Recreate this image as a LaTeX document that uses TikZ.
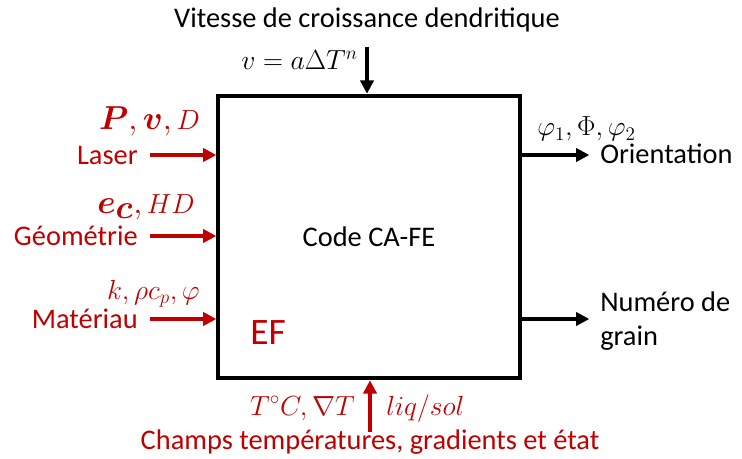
\documentclass[tikz,border=0pt]{standalone}
\usepackage{amsmath}
\usepackage{bm}
\usepackage{fontspec}
\setmainfont{Carlito}
\usetikzlibrary{arrows.meta, positioning, calc}
\definecolor{cared}{RGB}{192,0,0}

\begin{document}
\begin{tikzpicture}[x=0.75pt, y=-0.75pt,
  txt/.style={font=\fontsize{21.3}{24}\selectfont, inner sep=0pt, align=left},
  redtxt/.style={txt, text=cared},
  mth/.style={font=\fontsize{20.5}{24}\selectfont, inner sep=0pt},
  redmth/.style={mth, text=cared},
  codebox/.style={draw, line width=3pt, minimum width=226pt, minimum height=212pt, font=\fontsize{21.3}{24}\selectfont},
  inarrow/.style={-{Triangle[length=10pt, width=10pt]}, line width=2.3pt, draw=cared},
  outarrow/.style={-{Triangle[length=10pt, width=10pt]}, line width=2.3pt, draw=black}
]
\useasboundingbox (0,0) rectangle (742,459);
\node[codebox] (code) at (369,237) {Code CA-FE};
\node[redtxt, font=\fontsize{28}{30}\selectfont] (ef) at (268,333) {EF};

% entrées
\node[redtxt, anchor=east] (laser) at (138,155) {Laser};
\node[redtxt, anchor=east] (geom) at (138,236) {Géométrie};
\node[redtxt, anchor=east] (mat) at (138,319) {Matériau};
\node[redmth, anchor=east] (laserpar) at (200,121) {{\fontsize{34}{36}\selectfont$\bm{P},\bm{v},$}\,$D$};
\node[redmth, anchor=east] (geompar) at (195,207) {{\fontsize{34}{36}\selectfont$\bm{e_c},$}\,$HD$};
\node[redmth, anchor=east] (matpar) at (200,294) {$k,\rho c_p,\varphi$};
\draw[inarrow] ([xshift=9pt]laser.east) -- (laser.east -| code.west);
\draw[inarrow] ([xshift=9pt]geom.east) -- (geom.east -| code.west);
\draw[inarrow] ([xshift=9pt]mat.east) -- (mat.east -| code.west);

% haut
\node[txt] (vitesse) at (367,20) {Vitesse de croissance dendritique};
\coordinate (vtop) at (367,47);
\node[mth, anchor=base east] (vloi) at (358,70) {$v=a\Delta T^n$};
\draw[outarrow] (vtop) -- (vtop |- code.north);

% bas
\node[redtxt] (champs) at (370,442) {Champs températures, gradients et état};
\coordinate (cbot) at (370,432);
\node[redmth, anchor=base east] (tgrad) at (355,415) {$T^{\circ}C,\nabla T$};
\node[redmth, anchor=base west] (etat) at (386,415) {$liq/sol$};
\draw[inarrow] (cbot) -- (cbot |- code.south);

% sorties
\node[txt, anchor=west] (orient) at (600,154) {Orientation};
\node[mth, anchor=base west] (angles) at (537,136) {$\varphi_1,\Phi,\varphi_2$};
\node[txt, anchor=west, font=\fontsize{21.3}{25}\selectfont] (grain) at (600,321) {Numéro de\\grain};
\draw[outarrow] (code.east |- 0,155) -- ([xshift=-8pt]orient.west |- 0,155);
\draw[outarrow] (code.east |- 0,319) -- ([xshift=-8pt]grain.west |- 0,319);
\end{tikzpicture}
\end{document}
